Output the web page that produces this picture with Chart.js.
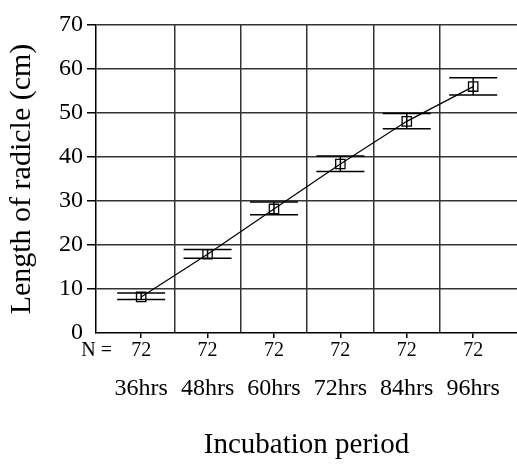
<!DOCTYPE html>
<html>
<head>
<meta charset="utf-8">
<script src="https://cdn.jsdelivr.net/npm/chart.js@4.4.0/dist/chart.umd.min.js"></script>
<style>
  body { margin: 0; background: #fff; }
  #wrap { width: 517px; height: 464px; }
</style>
</head>
<body>
<div id="wrap"><canvas id="radicleChart" width="517" height="464"></canvas></div>
<script>
// Data
const categories = ['36hrs', '48hrs', '60hrs', '72hrs', '84hrs', '96hrs'];
const meanLength = [8.2, 17.9, 28.2, 38.4, 48.1, 56.0];
const upperBar = [9.1, 19.0, 29.8, 40.2, 49.9, 58.0];
const lowerBar = [7.6, 17.0, 26.9, 36.7, 46.4, 54.1];
const nCounts = [72, 72, 72, 72, 72, 72];
const yTicks = [0, 10, 20, 30, 40, 50, 60, 70];

const serif = '"Liberation Serif", "Times New Roman", serif';
const gridColor = '#333';
const clear = 'rgba(0,0,0,0)';
const xMin = -0.68;
const xMax = 5.66;
const nLabelPos = -0.67;

// Error bars: caps above and below plus a stem through the mean
const errorBars = {
    id: 'errorBars',
    afterDatasetsDraw(chart) {
        const { ctx, scales: { x, y } } = chart;
        ctx.save();
        ctx.strokeStyle = '#000';
        ctx.lineWidth = 1.5;
        meanLength.forEach((m, i) => {
            const px = x.getPixelForValue(i);
            const top = y.getPixelForValue(upperBar[i]);
            const bot = y.getPixelForValue(lowerBar[i]);
            ctx.beginPath();
            ctx.moveTo(px - 24, top); ctx.lineTo(px + 24, top);
            ctx.moveTo(px - 24, bot); ctx.lineTo(px + 24, bot);
            ctx.moveTo(px, top); ctx.lineTo(px, bot);
            ctx.stroke();
        });
        ctx.restore();
    }
};

function noSidePadding(s) {
    s.paddingLeft = 0;
    s.paddingRight = 0;
}

new Chart(document.getElementById('radicleChart'), {
    type: 'scatter',
    data: {
        datasets: [{
            data: meanLength.map((v, i) => ({ x: i, y: v })),
            showLine: true,
            tension: 0,
            borderColor: '#000',
            borderWidth: 1.2,
            pointStyle: 'rect',
            pointRadius: 6.6,
            pointHoverRadius: 6.6,
            pointBorderWidth: 1.3,
            pointBorderColor: '#000',
            pointBackgroundColor: clear,
            xAxisID: 'x',
            yAxisID: 'y'
        }]
    },
    options: {
        responsive: false,
        animation: false,
        layout: { autoPadding: false, padding: { top: 25, left: 0, right: 0, bottom: 0 } },
        plugins: { legend: { display: false }, tooltip: { enabled: false } },
        scales: {
            xGrid: {
                type: 'linear', position: 'bottom', weight: 0, min: xMin, max: xMax,
                afterBuildTicks: s => { s.ticks = categories.slice(1).map((c, i) => ({ value: i + 0.5 })); },
                ticks: { display: false },
                grid: { color: gridColor, lineWidth: 1.5, drawTicks: false },
                border: { display: false },
                afterFit: s => { s.height = 0; noSidePadding(s); }
            },
            x: {
                type: 'linear', position: 'bottom', weight: 1, min: xMin, max: xMax,
                afterBuildTicks: s => {
                    s.ticks = [{ value: nLabelPos }].concat(categories.map((c, i) => ({ value: i })));
                },
                ticks: {
                    callback: (v, i) => i === 0 ? 'N =' : String(nCounts[i - 1]),
                    font: { family: serif, size: 20, lineHeight: 1 },
                    color: '#000', padding: 3, maxRotation: 0, autoSkip: false
                },
                grid: {
                    drawOnChartArea: false, drawTicks: true, tickLength: 5, lineWidth: 1.5,
                    tickColor: ctx => ctx.index === 0 ? clear : '#000'
                },
                border: { color: '#000', width: 1.5 },
                afterFit: s => { s.height = 30; noSidePadding(s); }
            },
            xCat: {
                type: 'linear', position: 'bottom', weight: 2, min: xMin, max: xMax,
                afterBuildTicks: s => { s.ticks = categories.map((c, i) => ({ value: i })); },
                ticks: {
                    callback: (v, i) => categories[i],
                    font: { family: serif, size: 24, lineHeight: 1.2 },
                    color: '#000', padding: 3, maxRotation: 0, autoSkip: false
                },
                grid: { display: false },
                border: { display: false },
                title: {
                    display: true, text: 'Incubation period', color: '#000',
                    font: { family: serif, size: 29, lineHeight: 1 },
                    padding: { top: 0, bottom: 4 }
                },
                afterFit: s => { s.height = 101; noSidePadding(s); }
            },
            y: {
                min: 0, max: 70,
                afterBuildTicks: s => { s.ticks = yTicks.map(v => ({ value: v })); },
                ticks: { font: { family: serif, size: 24 }, color: '#000', padding: 4 },
                grid: {
                    color: ctx => ctx.tick && ctx.tick.value === 0 ? clear : gridColor,
                    tickColor: ctx => ctx.tick && ctx.tick.value === 0 ? clear : '#000',
                    lineWidth: 1.5, tickLength: 9
                },
                border: { color: '#000', width: 1.5 },
                title: {
                    display: true, text: 'Length of radicle (cm)', color: '#000',
                    font: { family: serif, size: 30, lineHeight: 1 },
                    padding: { top: 7, bottom: 0 }
                },
                afterFit: s => { s.width = 96; s.paddingTop = 0; s.paddingBottom = 0; }
            }
        }
    },
    plugins: [errorBars]
});
</script>
</body>
</html>
